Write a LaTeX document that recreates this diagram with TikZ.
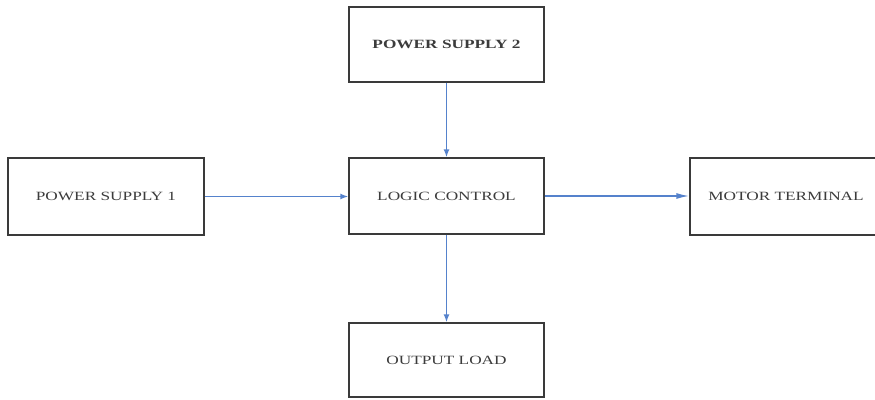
\documentclass[tikz,border=0pt]{standalone}
\usepackage{fontspec}
\newfontfamily\lblfont[FakeStretch=1.37]{Liberation Serif}
\usetikzlibrary{arrows.meta}
\definecolor{boxline}{HTML}{3A3A3A}
\definecolor{txt}{HTML}{3C3C3C}
\definecolor{arrblue}{HTML}{5582CC}
\tikzset{
  blk/.style={draw=boxline, line width=1.4pt, rectangle, fill=white,
    text=txt, font=\lblfont\fontsize{12.6}{14}\selectfont, inner sep=0pt},
  arr/.style={draw=arrblue, line width=1.5pt, -{Latex[length=8pt,width=6pt]}},
}
\begin{document}
\begin{tikzpicture}[x=1pt,y=-1pt]
\clip (0,0) rectangle (875,399);
\fill[white] (0,0) rectangle (875,399);
\node[blk, minimum width=195pt, minimum height=75pt] (ps2) at (446.5,44.5) {\bfseries POWER SUPPLY 2};
\node[blk, minimum width=196pt, minimum height=77pt] (ps1) at (106,196.5) {POWER SUPPLY 1};
\node[blk, minimum width=195pt, minimum height=76pt] (lc) at (446.5,196) {LOGIC CONTROL};
\node[blk, minimum width=192pt, minimum height=77pt] (mt) at (786,196.5) {MOTOR TERMINAL};
\node[blk, minimum width=195pt, minimum height=74pt] (ol) at (446.5,360) {OUTPUT LOAD};
\draw[arr] (ps2.south) -- (lc.north);
\draw[arr] (ps1.east) -- (ps1.east -| lc.west);
\draw[arr, -{Latex[length=13pt,width=6pt]}] (lc.east) -- (lc.east -| mt.west);
\draw[arr] (lc.south) -- (ol.north);
\end{tikzpicture}
\end{document}
